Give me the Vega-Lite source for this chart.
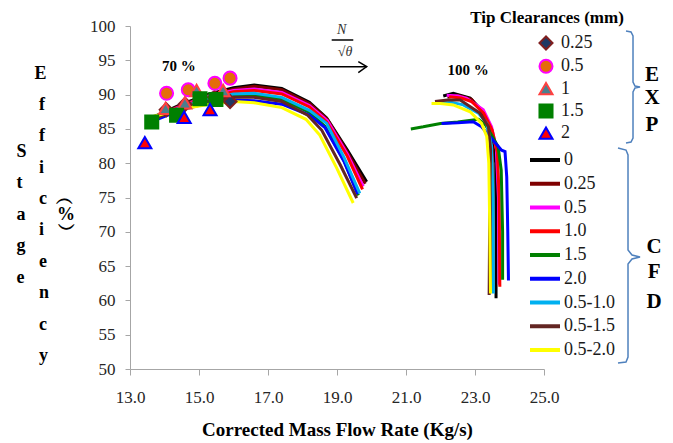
{
  "$schema": "https://vega.github.io/schema/vega-lite/v6.json",
  "width": 414,
  "height": 343,
  "autosize": {"type": "none"},
  "padding": {"left": 130, "top": 26, "right": 129, "bottom": 74},
  "background": "white",
  "config": {
    "view": {"stroke": null},
    "font": "Liberation Serif, Times New Roman, serif",
    "legend": {"labelFont": "Liberation Serif, Times New Roman, serif", "labelFontSize": 18, "labelColor": "#1a1a1a", "padding": 0, "orient": "none"}
  },
  "datasets": {
    "cfd": [
      {"cfd": "0", "speed": "70", "x": 13.7, "y": 86.8}, {"cfd": "0", "speed": "70", "x": 14.5, "y": 88.6}, {"cfd": "0", "speed": "70", "x": 15.3, "y": 90.1}, {"cfd": "0", "speed": "70", "x": 16.0, "y": 91.0}, {"cfd": "0", "speed": "70", "x": 16.6, "y": 91.4}, {"cfd": "0", "speed": "70", "x": 17.4, "y": 90.9}, {"cfd": "0", "speed": "70", "x": 18.2, "y": 88.9}, {"cfd": "0", "speed": "70", "x": 18.7, "y": 86.6}, {"cfd": "0", "speed": "70", "x": 19.3, "y": 81.9}, {"cfd": "0", "speed": "70", "x": 19.86, "y": 77.3},
      {"cfd": "0", "speed": "100", "x": 22.08, "y": 89.8}, {"cfd": "0", "speed": "100", "x": 22.37, "y": 90.2}, {"cfd": "0", "speed": "100", "x": 22.86, "y": 89.5}, {"cfd": "0", "speed": "100", "x": 23.19, "y": 87.75}, {"cfd": "0", "speed": "100", "x": 23.39, "y": 85.8}, {"cfd": "0", "speed": "100", "x": 23.55, "y": 82.5}, {"cfd": "0", "speed": "100", "x": 23.6, "y": 80.0}, {"cfd": "0", "speed": "100", "x": 23.61, "y": 70.0}, {"cfd": "0", "speed": "100", "x": 23.61, "y": 60.3},
      {"cfd": "0.25", "speed": "70", "x": 13.7, "y": 86.7}, {"cfd": "0.25", "speed": "70", "x": 14.5, "y": 88.5}, {"cfd": "0.25", "speed": "70", "x": 15.3, "y": 89.9}, {"cfd": "0.25", "speed": "70", "x": 16.0, "y": 90.8}, {"cfd": "0.25", "speed": "70", "x": 16.6, "y": 91.2}, {"cfd": "0.25", "speed": "70", "x": 17.4, "y": 90.7}, {"cfd": "0.25", "speed": "70", "x": 18.2, "y": 88.7}, {"cfd": "0.25", "speed": "70", "x": 18.72, "y": 86.4}, {"cfd": "0.25", "speed": "70", "x": 19.3, "y": 81.6}, {"cfd": "0.25", "speed": "70", "x": 19.82, "y": 77.0},
      {"cfd": "0.25", "speed": "100", "x": 22.2, "y": 89.6}, {"cfd": "0.25", "speed": "100", "x": 22.5, "y": 89.9}, {"cfd": "0.25", "speed": "100", "x": 22.9, "y": 89.3}, {"cfd": "0.25", "speed": "100", "x": 23.2, "y": 87.5}, {"cfd": "0.25", "speed": "100", "x": 23.38, "y": 85.4}, {"cfd": "0.25", "speed": "100", "x": 23.5, "y": 82.0}, {"cfd": "0.25", "speed": "100", "x": 23.5, "y": 75.0}, {"cfd": "0.25", "speed": "100", "x": 23.46, "y": 61.2},
      {"cfd": "0.5", "speed": "70", "x": 13.7, "y": 86.6}, {"cfd": "0.5", "speed": "70", "x": 14.5, "y": 88.4}, {"cfd": "0.5", "speed": "70", "x": 15.3, "y": 89.8}, {"cfd": "0.5", "speed": "70", "x": 16.0, "y": 90.6}, {"cfd": "0.5", "speed": "70", "x": 16.6, "y": 90.8}, {"cfd": "0.5", "speed": "70", "x": 17.4, "y": 90.3}, {"cfd": "0.5", "speed": "70", "x": 18.2, "y": 88.4}, {"cfd": "0.5", "speed": "70", "x": 18.72, "y": 86.2}, {"cfd": "0.5", "speed": "70", "x": 19.3, "y": 81.3}, {"cfd": "0.5", "speed": "70", "x": 19.76, "y": 76.6},
      {"cfd": "0.5", "speed": "100", "x": 22.18, "y": 89.9}, {"cfd": "0.5", "speed": "100", "x": 22.5, "y": 89.8}, {"cfd": "0.5", "speed": "100", "x": 22.76, "y": 89.45}, {"cfd": "0.5", "speed": "100", "x": 23.24, "y": 87.8}, {"cfd": "0.5", "speed": "100", "x": 23.48, "y": 85.3}, {"cfd": "0.5", "speed": "100", "x": 23.62, "y": 82.0}, {"cfd": "0.5", "speed": "100", "x": 23.68, "y": 75.0}, {"cfd": "0.5", "speed": "100", "x": 23.7, "y": 62.3},
      {"cfd": "1.0", "speed": "70", "x": 13.7, "y": 86.6}, {"cfd": "1.0", "speed": "70", "x": 14.5, "y": 88.3}, {"cfd": "1.0", "speed": "70", "x": 15.3, "y": 89.6}, {"cfd": "1.0", "speed": "70", "x": 16.0, "y": 90.4}, {"cfd": "1.0", "speed": "70", "x": 16.6, "y": 90.6}, {"cfd": "1.0", "speed": "70", "x": 17.4, "y": 90.1}, {"cfd": "1.0", "speed": "70", "x": 18.2, "y": 88.2}, {"cfd": "1.0", "speed": "70", "x": 18.7, "y": 86.0}, {"cfd": "1.0", "speed": "70", "x": 19.3, "y": 81.0}, {"cfd": "1.0", "speed": "70", "x": 19.74, "y": 76.2},
      {"cfd": "1.0", "speed": "100", "x": 22.25, "y": 89.7}, {"cfd": "1.0", "speed": "100", "x": 22.6, "y": 89.5}, {"cfd": "1.0", "speed": "100", "x": 22.9, "y": 89.0}, {"cfd": "1.0", "speed": "100", "x": 23.25, "y": 87.3}, {"cfd": "1.0", "speed": "100", "x": 23.5, "y": 84.8}, {"cfd": "1.0", "speed": "100", "x": 23.65, "y": 81.5}, {"cfd": "1.0", "speed": "100", "x": 23.7, "y": 75.0}, {"cfd": "1.0", "speed": "100", "x": 23.72, "y": 62.0},
      {"cfd": "1.5", "speed": "70", "x": 13.7, "y": 86.4}, {"cfd": "1.5", "speed": "70", "x": 14.5, "y": 88.0}, {"cfd": "1.5", "speed": "70", "x": 15.3, "y": 89.2}, {"cfd": "1.5", "speed": "70", "x": 16.0, "y": 89.8}, {"cfd": "1.5", "speed": "70", "x": 16.6, "y": 89.9}, {"cfd": "1.5", "speed": "70", "x": 17.4, "y": 89.3}, {"cfd": "1.5", "speed": "70", "x": 18.2, "y": 87.4}, {"cfd": "1.5", "speed": "70", "x": 18.65, "y": 85.4}, {"cfd": "1.5", "speed": "70", "x": 19.2, "y": 80.4}, {"cfd": "1.5", "speed": "70", "x": 19.62, "y": 75.3},
      {"cfd": "1.5", "speed": "100", "x": 21.14, "y": 85.0}, {"cfd": "1.5", "speed": "100", "x": 21.5, "y": 85.3}, {"cfd": "1.5", "speed": "100", "x": 22.0, "y": 85.8}, {"cfd": "1.5", "speed": "100", "x": 22.5, "y": 86.0}, {"cfd": "1.5", "speed": "100", "x": 22.95, "y": 86.3}, {"cfd": "1.5", "speed": "100", "x": 23.1, "y": 86.4}, {"cfd": "1.5", "speed": "100", "x": 23.3, "y": 85.6}, {"cfd": "1.5", "speed": "100", "x": 23.48, "y": 84.1}, {"cfd": "1.5", "speed": "100", "x": 23.67, "y": 82.4}, {"cfd": "1.5", "speed": "100", "x": 23.76, "y": 79.0}, {"cfd": "1.5", "speed": "100", "x": 23.8, "y": 70.0}, {"cfd": "1.5", "speed": "100", "x": 23.8, "y": 63.0},
      {"cfd": "2.0", "speed": "70", "x": 13.7, "y": 86.2}, {"cfd": "2.0", "speed": "70", "x": 14.5, "y": 87.8}, {"cfd": "2.0", "speed": "70", "x": 15.3, "y": 88.8}, {"cfd": "2.0", "speed": "70", "x": 16.0, "y": 89.2}, {"cfd": "2.0", "speed": "70", "x": 16.6, "y": 89.1}, {"cfd": "2.0", "speed": "70", "x": 17.4, "y": 88.6}, {"cfd": "2.0", "speed": "70", "x": 18.2, "y": 87.0}, {"cfd": "2.0", "speed": "70", "x": 18.65, "y": 85.2}, {"cfd": "2.0", "speed": "70", "x": 19.2, "y": 80.3}, {"cfd": "2.0", "speed": "70", "x": 19.6, "y": 75.5},
      {"cfd": "2.0", "speed": "100", "x": 22.03, "y": 85.8}, {"cfd": "2.0", "speed": "100", "x": 22.5, "y": 85.9}, {"cfd": "2.0", "speed": "100", "x": 22.95, "y": 86.05}, {"cfd": "2.0", "speed": "100", "x": 23.19, "y": 85.3}, {"cfd": "2.0", "speed": "100", "x": 23.5, "y": 83.5}, {"cfd": "2.0", "speed": "100", "x": 23.77, "y": 81.9}, {"cfd": "2.0", "speed": "100", "x": 23.87, "y": 81.7}, {"cfd": "2.0", "speed": "100", "x": 23.92, "y": 78.0}, {"cfd": "2.0", "speed": "100", "x": 23.95, "y": 70.0}, {"cfd": "2.0", "speed": "100", "x": 23.97, "y": 62.9},
      {"cfd": "0.5-1.0", "speed": "70", "x": 13.7, "y": 86.5}, {"cfd": "0.5-1.0", "speed": "70", "x": 14.5, "y": 88.2}, {"cfd": "0.5-1.0", "speed": "70", "x": 15.3, "y": 89.4}, {"cfd": "0.5-1.0", "speed": "70", "x": 16.0, "y": 90.1}, {"cfd": "0.5-1.0", "speed": "70", "x": 16.6, "y": 90.2}, {"cfd": "0.5-1.0", "speed": "70", "x": 17.4, "y": 89.6}, {"cfd": "0.5-1.0", "speed": "70", "x": 18.2, "y": 87.7}, {"cfd": "0.5-1.0", "speed": "70", "x": 18.7, "y": 85.8}, {"cfd": "0.5-1.0", "speed": "70", "x": 19.2, "y": 80.9}, {"cfd": "0.5-1.0", "speed": "70", "x": 19.66, "y": 75.6},
      {"cfd": "0.5-1.0", "speed": "100", "x": 21.94, "y": 89.0}, {"cfd": "0.5-1.0", "speed": "100", "x": 22.3, "y": 88.9}, {"cfd": "0.5-1.0", "speed": "100", "x": 22.66, "y": 88.5}, {"cfd": "0.5-1.0", "speed": "100", "x": 23.1, "y": 87.3}, {"cfd": "0.5-1.0", "speed": "100", "x": 23.34, "y": 85.8}, {"cfd": "0.5-1.0", "speed": "100", "x": 23.48, "y": 82.5}, {"cfd": "0.5-1.0", "speed": "100", "x": 23.52, "y": 75.0}, {"cfd": "0.5-1.0", "speed": "100", "x": 23.53, "y": 61.0},
      {"cfd": "0.5-1.5", "speed": "70", "x": 13.7, "y": 86.5}, {"cfd": "0.5-1.5", "speed": "70", "x": 14.5, "y": 88.0}, {"cfd": "0.5-1.5", "speed": "70", "x": 15.3, "y": 89.1}, {"cfd": "0.5-1.5", "speed": "70", "x": 16.0, "y": 89.6}, {"cfd": "0.5-1.5", "speed": "70", "x": 16.6, "y": 89.6}, {"cfd": "0.5-1.5", "speed": "70", "x": 17.4, "y": 89.0}, {"cfd": "0.5-1.5", "speed": "70", "x": 18.15, "y": 87.0}, {"cfd": "0.5-1.5", "speed": "70", "x": 18.56, "y": 84.8}, {"cfd": "0.5-1.5", "speed": "70", "x": 19.1, "y": 79.7}, {"cfd": "0.5-1.5", "speed": "70", "x": 19.57, "y": 74.9},
      {"cfd": "0.5-1.5", "speed": "100", "x": 21.84, "y": 89.0}, {"cfd": "0.5-1.5", "speed": "100", "x": 22.2, "y": 89.2}, {"cfd": "0.5-1.5", "speed": "100", "x": 22.57, "y": 89.2}, {"cfd": "0.5-1.5", "speed": "100", "x": 23.14, "y": 87.3}, {"cfd": "0.5-1.5", "speed": "100", "x": 23.39, "y": 85.3}, {"cfd": "0.5-1.5", "speed": "100", "x": 23.45, "y": 82.0}, {"cfd": "0.5-1.5", "speed": "100", "x": 23.43, "y": 75.0}, {"cfd": "0.5-1.5", "speed": "100", "x": 23.41, "y": 60.8},
      {"cfd": "0.5-2.0", "speed": "70", "x": 13.5, "y": 86.6}, {"cfd": "0.5-2.0", "speed": "70", "x": 14.5, "y": 87.9}, {"cfd": "0.5-2.0", "speed": "70", "x": 15.3, "y": 88.6}, {"cfd": "0.5-2.0", "speed": "70", "x": 16.0, "y": 89.0}, {"cfd": "0.5-2.0", "speed": "70", "x": 16.6, "y": 88.8}, {"cfd": "0.5-2.0", "speed": "70", "x": 17.4, "y": 88.1}, {"cfd": "0.5-2.0", "speed": "70", "x": 18.1, "y": 86.4}, {"cfd": "0.5-2.0", "speed": "70", "x": 18.5, "y": 84.1}, {"cfd": "0.5-2.0", "speed": "70", "x": 19.0, "y": 79.2}, {"cfd": "0.5-2.0", "speed": "70", "x": 19.47, "y": 74.2},
      {"cfd": "0.5-2.0", "speed": "100", "x": 21.74, "y": 88.7}, {"cfd": "0.5-2.0", "speed": "100", "x": 22.0, "y": 88.7}, {"cfd": "0.5-2.0", "speed": "100", "x": 22.37, "y": 88.5}, {"cfd": "0.5-2.0", "speed": "100", "x": 22.86, "y": 87.5}, {"cfd": "0.5-2.0", "speed": "100", "x": 23.19, "y": 85.8}, {"cfd": "0.5-2.0", "speed": "100", "x": 23.34, "y": 83.9}, {"cfd": "0.5-2.0", "speed": "100", "x": 23.4, "y": 80.0}, {"cfd": "0.5-2.0", "speed": "100", "x": 23.43, "y": 70.0}, {"cfd": "0.5-2.0", "speed": "100", "x": 23.45, "y": 61.0}
    ],
    "exp": [
      {"exp": "0.25", "x": 14.05, "y": 87.8}, {"exp": "0.25", "x": 14.6, "y": 88.6}, {"exp": "0.25", "x": 15.45, "y": 89.6}, {"exp": "0.25", "x": 15.9, "y": 89.0},
      {"exp": "0.5", "x": 14.06, "y": 90.2}, {"exp": "0.5", "x": 14.69, "y": 90.7}, {"exp": "0.5", "x": 15.46, "y": 91.65}, {"exp": "0.5", "x": 15.9, "y": 92.4},
      {"exp": "1", "x": 14.03, "y": 88.0}, {"exp": "1", "x": 14.59, "y": 88.8}, {"exp": "1", "x": 14.93, "y": 90.6}, {"exp": "1", "x": 15.7, "y": 90.6},
      {"exp": "1.5", "x": 13.63, "y": 86.0}, {"exp": "1.5", "x": 14.35, "y": 87.0}, {"exp": "1.5", "x": 15.03, "y": 89.4}, {"exp": "1.5", "x": 15.49, "y": 89.3},
      {"exp": "2", "x": 13.43, "y": 83.0}, {"exp": "2", "x": 14.57, "y": 86.7}, {"exp": "2", "x": 15.32, "y": 87.8}
    ],
    "speeds": [
      {"label": "70 %", "x": 14.42, "y": 94.2},
      {"label": "100 %", "x": 22.8, "y": 93.6}
    ],
    "heading": [
      {"label": "Tip Clearances (mm)", "x": 25.087, "y": 101.17}
    ],
    "groups": [
      {"label": "E", "x": 28.13, "y": 92.86}, {"label": "X", "x": 28.13, "y": 89.5}, {"label": "P", "x": 28.13, "y": 85.57},
      {"label": "C", "x": 28.19, "y": 67.78}, {"label": "F", "x": 28.19, "y": 64.14}, {"label": "D", "x": 28.19, "y": 59.77}
    ],
    "braces": [
      {"g": "exp", "x": 27.377, "y": 99.27}, {"g": "exp", "x": 27.522, "y": 99.13}, {"g": "exp", "x": 27.58, "y": 98.54}, {"g": "exp", "x": 27.58, "y": 91.84}, {"g": "exp", "x": 27.638, "y": 91.25}, {"g": "exp", "x": 27.783, "y": 91.11}, {"g": "exp", "x": 27.638, "y": 90.96}, {"g": "exp", "x": 27.58, "y": 90.38}, {"g": "exp", "x": 27.58, "y": 83.67}, {"g": "exp", "x": 27.522, "y": 83.09}, {"g": "exp", "x": 27.377, "y": 82.94},
      {"g": "cfd", "x": 27.145, "y": 82.22}, {"g": "cfd", "x": 27.377, "y": 81.92}, {"g": "cfd", "x": 27.435, "y": 81.2}, {"g": "cfd", "x": 27.435, "y": 67.35}, {"g": "cfd", "x": 27.551, "y": 66.62}, {"g": "cfd", "x": 27.783, "y": 66.33}, {"g": "cfd", "x": 27.551, "y": 66.03}, {"g": "cfd", "x": 27.435, "y": 65.31}, {"g": "cfd", "x": 27.435, "y": 51.75}, {"g": "cfd", "x": 27.377, "y": 51.02}, {"g": "cfd", "x": 27.145, "y": 50.87}
    ],
    "arrow": [
      {"g": "shaft", "x": 18.507, "y": 94.07}, {"g": "shaft", "x": 19.861, "y": 94.07},
      {"g": "head", "x": 19.617, "y": 94.8}, {"g": "head", "x": 19.861, "y": 94.07}, {"g": "head", "x": 19.617, "y": 93.19},
      {"g": "bar", "x": 18.846, "y": 97.96}, {"g": "bar", "x": 19.472, "y": 97.96}
    ],
    "fraction": [
      {"label": "N", "x": 19.136, "y": 99.42},
      {"label": "√θ", "x": 19.232, "y": 96.25}
    ]
  },
  "encoding": {
    "x": {
      "field": "x", "type": "quantitative",
      "scale": {"domain": [13, 25], "nice": false, "zero": false},
      "axis": {
        "values": [13, 15, 17, 19, 21, 23, 25], "format": ".1f", "grid": false,
        "domainColor": "#A6A6A6", "tickColor": "#A6A6A6", "tickSize": 6,
        "labelFont": "Liberation Serif, Times New Roman, serif", "labelFontSize": 17, "labelColor": "#262626", "labelPadding": 14,
        "labelFlush": false, "labelOverlap": false,
        "title": "Corrected Mass Flow Rate (Kg/s)", "titleFont": "Liberation Serif, Times New Roman, serif", "titleFontSize": 19,
        "titleFontWeight": "bold", "titleColor": "black", "titlePadding": 15
      }
    },
    "y": {
      "field": "y", "type": "quantitative",
      "scale": {"domain": [50, 100], "nice": false, "zero": false},
      "axis": {
        "values": [50, 55, 60, 65, 70, 75, 80, 85, 90, 95, 100], "grid": false,
        "domainColor": "#A6A6A6", "tickColor": "#A6A6A6", "tickSize": 5,
        "labelFont": "Liberation Serif, Times New Roman, serif", "labelFontSize": 17, "labelColor": "#262626", "labelPadding": 10,
        "labelFlush": false, "labelOverlap": false,
        "title": [
          "\u200b\u00a0\u00a0\u00a0\u00a0E",
          "\u200b",
          "\u200b\u00a0\u00a0\u00a0\u00a0\u00a0f",
          "\u200b",
          "\u200b\u00a0\u00a0\u00a0\u00a0\u00a0f",
          "S",
          "\u200b\u00a0\u00a0\u00a0\u00a0\u00a0i",
          "t",
          "\u200b\u00a0\u00a0\u00a0\u00a0\u00a0c\u00a0\u00a0\ufe35",
          "a\u00a0\u00a0\u00a0\u00a0\u00a0\u00a0\u00a0%",
          "\u200b\u00a0\u00a0\u00a0\u00a0\u00a0i\u00a0\u00a0\u00a0\ufe36",
          "g",
          "\u200b\u00a0\u00a0\u00a0\u00a0\u00a0e",
          "e",
          "\u200b\u00a0\u00a0\u00a0\u00a0\u00a0n",
          "\u200b",
          "\u200b\u00a0\u00a0\u00a0\u00a0\u00a0c",
          "\u200b",
          "\u200b\u00a0\u00a0\u00a0\u00a0\u00a0y"
        ],
        "titleAngle": 0, "titleAlign": "left", "titleBaseline": "top",
        "titleX": -114, "titleY": 38, "titleLineHeight": 15.7,
        "titleFont": "Liberation Serif, Times New Roman, serif", "titleFontSize": 18, "titleFontWeight": "bold", "titleColor": "black"
      }
    }
  },
  "layer": [
    {
      "data": {"name": "cfd"},
      "mark": {"type": "line", "strokeWidth": 3},
      "encoding": {
        "color": {
          "field": "cfd", "type": "nominal",
          "scale": {
            "domain": ["0", "0.25", "0.5", "1.0", "1.5", "2.0", "0.5-1.0", "0.5-1.5", "0.5-2.0"],
            "range": ["#000000", "#7F0000", "#FF00FF", "#FF0000", "#008000", "#0000FF", "#00B0F0", "#632523", "#FFFF00"]
          },
          "legend": {"title": null, "legendX": 398, "legendY": 124, "symbolType": "stroke", "symbolSize": 900, "symbolStrokeWidth": 4, "labelOffset": 2, "clipHeight": 20, "rowPadding": 3.75}
        },
        "detail": {"field": "speed"},
        "order": {"value": null}
      }
    },
    {
      "data": {"name": "exp"},
      "mark": {"type": "point", "filled": true, "size": 170, "strokeWidth": 2, "opacity": 1},
      "encoding": {
        "shape": {
          "field": "exp", "type": "nominal",
          "scale": {"domain": ["0.25", "0.5", "1", "1.5", "2"], "range": ["diamond", "circle", "triangle-up", "square", "triangle-up"]},
          "legend": {"title": null, "legendX": 407, "legendY": 8, "symbolSize": 170, "symbolStrokeWidth": 2, "labelOffset": 6, "rowPadding": 1.3}
        },
        "fill": {
          "field": "exp", "type": "nominal",
          "scale": {"domain": ["0.25", "0.5", "1", "1.5", "2"], "range": ["#1F3864", "#E46C0A", "#4A7F8E", "#008000", "#FF0000"]},
          "legend": {"title": null, "legendX": 407, "legendY": 8, "symbolSize": 170, "symbolStrokeWidth": 2, "labelOffset": 6, "rowPadding": 1.3}
        },
        "stroke": {
          "field": "exp", "type": "nominal",
          "scale": {"domain": ["0.25", "0.5", "1", "1.5", "2"], "range": ["#7F1F1F", "#FF00FF", "#FF4040", "#008000", "#0000FF"]},
          "legend": {"title": null, "legendX": 407, "legendY": 8, "symbolSize": 170, "symbolStrokeWidth": 2, "labelOffset": 6, "rowPadding": 1.3}
        }
      }
    },
    {
      "data": {"name": "speeds"},
      "mark": {"type": "text", "font": "Liberation Serif, Times New Roman, serif", "fontSize": 15, "fontWeight": "bold", "color": "black"},
      "encoding": {"text": {"field": "label"}}
    },
    {
      "data": {"name": "heading"},
      "mark": {"type": "text", "font": "Liberation Serif, Times New Roman, serif", "fontSize": 17, "fontWeight": "bold", "color": "black", "baseline": "middle"},
      "encoding": {"text": {"field": "label"}}
    },
    {
      "data": {"name": "groups"},
      "mark": {"type": "text", "font": "Liberation Serif, Times New Roman, serif", "fontSize": 21, "fontWeight": "bold", "color": "black"},
      "encoding": {"text": {"field": "label"}}
    },
    {
      "data": {"name": "braces"},
      "mark": {"type": "line", "stroke": "#4F81BD", "strokeWidth": 1.5},
      "encoding": {"detail": {"field": "g"}, "order": {"value": null}}
    },
    {
      "data": {"name": "arrow"},
      "mark": {"type": "line", "stroke": "black", "strokeWidth": 1.5},
      "encoding": {"detail": {"field": "g"}, "order": {"value": null}}
    },
    {
      "data": {"name": "fraction"},
      "mark": {"type": "text", "font": "Liberation Serif, Times New Roman, serif", "fontSize": 14, "fontStyle": "italic", "color": "#333333"},
      "encoding": {"text": {"field": "label"}}
    }
  ]
}
